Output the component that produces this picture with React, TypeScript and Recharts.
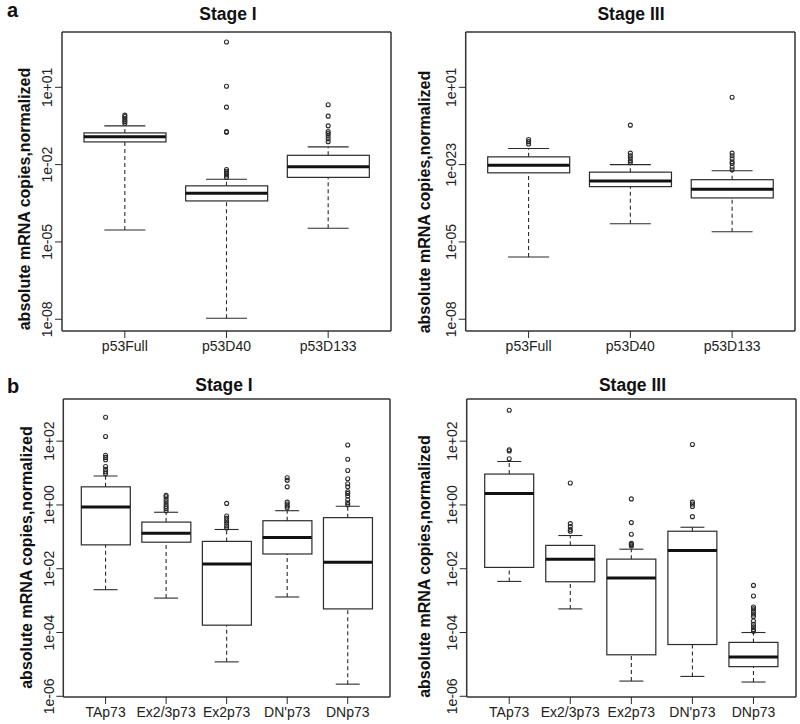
import React from 'react';
import { ComposedChart, Bar, Scatter, XAxis, YAxis } from 'recharts';

const FONT = '"Liberation Sans", Arial, Helvetica, sans-serif';
const INK = '#2b2b2b';
const FRAME = { stroke: '#333', strokeWidth: 1.5 };

// categories
const A_NAMES = ['p53Full', 'p53D40', 'p53D133'];
const B_NAMES = ['TAp73', 'Ex2/3p73', 'Ex2p73', "DN'p73", 'DNp73'];

// log axis limits and ticks
const A_DOMAIN = [3.5e-9, 1.4e3];
const B_DOMAIN = [9.5e-7, 2.1e3];
const A_TICKS = [1e-8, 1e-5, 1e-2, 1e1];
const A1_TICK_LABELS = ['1e-08', '1e-05', '1e-02', '1e+01'];
const A3_TICK_LABELS = ['1e-08', '1e-05', '1e-023', '1e+01'];
const B_TICKS = [1e-6, 1e-4, 1e-2, 1e0, 1e2];
const B_TICK_LABELS = ['1e-06', '1e-04', '1e-02', '1e+00', '1e+02'];

// [lower whisker, Q1, median, Q3, upper whisker]
const A1_STATS = [
  [2.9e-5, 7.6e-2, 1.2e-1, 1.7e-1, 3.2e-1],
  [1.1e-8, 3.9e-4, 7.8e-4, 1.5e-3, 2.7e-3],
  [3.4e-5, 3.2e-3, 8.3e-3, 2.3e-2, 4.9e-2],
];
const A1_OUT = [
  [0.83, 0.74, 0.63, 0.54, 0.47, 0.4],
  [575, 11, 1.7, 0.19, 0.18, 6.5e-3, 5.5e-3, 4.8e-3, 4.0e-3, 3.2e-3],
  [2.1, 0.76, 0.32, 0.19, 0.16, 0.13, 0.1, 0.078],
];

const A3_STATS = [
  [2.6e-6, 4.8e-3, 9.5e-3, 2.0e-2, 4.2e-2],
  [5.1e-5, 1.4e-3, 2.3e-3, 5.1e-3, 1.0e-2],
  [2.5e-5, 5.1e-4, 1.1e-3, 2.6e-3, 5.8e-3],
];
const A3_OUT = [
  [0.095, 0.078, 0.063],
  [0.34, 0.028, 0.022, 0.018, 0.014, 0.012],
  [4.1, 0.028, 0.022, 0.017, 0.013, 0.011, 8.1e-3, 6.3e-3],
];

const B1_STATS = [
  [2.2e-3, 0.056, 0.87, 3.7, 8.1],
  [1.2e-3, 0.068, 0.13, 0.29, 0.59],
  [1.2e-5, 1.7e-4, 0.014, 0.072, 0.17],
  [1.3e-3, 0.029, 0.095, 0.32, 0.66],
  [2.4e-6, 5.5e-4, 0.016, 0.4, 0.91],
];
const B1_OUT = [
  [560, 140, 36, 31, 26, 16, 13, 11, 9.5],
  [2.0, 1.8, 1.5, 1.26, 1.05, 0.89, 0.78, 0.66],
  [1.12, 0.45, 0.38, 0.32, 0.27, 0.22, 0.19],
  [7.1, 5.9, 3.7, 1.23, 1.07, 0.93, 0.81],
  [76, 27, 12, 6.6, 4.6, 3.7, 2.6, 2.3, 1.9, 1.45, 1.17, 1.02],
];

const B3_STATS = [
  [4.0e-3, 0.011, 2.3, 9.3, 23],
  [5.5e-4, 3.9e-3, 0.02, 0.054, 0.11],
  [3.0e-6, 2.0e-5, 5.1e-3, 0.02, 0.041],
  [4.2e-6, 4.2e-5, 0.037, 0.15, 0.2],
  [2.8e-6, 8.5e-6, 1.7e-5, 4.9e-5, 1.0e-4],
];
const B3_OUT = [
  [930, 54, 49, 28],
  [4.9, 0.26, 0.21, 0.17, 0.15],
  [1.55, 0.28, 0.12, 0.063, 0.058, 0.052],
  [79, 1.23, 1.07, 0.89, 0.43],
  [3.0e-3, 1.4e-3, 6.3e-4, 5.5e-4, 4.6e-4, 3.8e-4, 3.2e-4, 2.3e-4, 1.8e-4, 1.5e-4, 1.23e-4, 1.1e-4],
];

const BoxShape = (props: any) => {
  const { x, y, width, height } = props;
  return <rect x={x} y={y} width={width} height={height} fill="#fff" stroke={INK} strokeWidth={1.2} />;
};

const Outlier = (props: any) => (
  <circle cx={props.cx} cy={props.cy} r={2} fill="none" stroke={INK} strokeWidth={1.1} />
);

function makeYTick(ticks: number[], labels: string[]) {
  return (props: any) => {
    const { x, y, payload } = props;
    const i = ticks.findIndex(t => Math.abs(Math.log10(t) - Math.log10(payload.value)) < 1e-6);
    return (
      <text
        x={x}
        y={y}
        transform={`rotate(-90 ${x} ${y})`}
        textAnchor="middle"
        fontFamily={FONT}
        fontSize={14}
        fill="#222"
      >
        {i >= 0 ? labels[i] : ''}
      </text>
    );
  };
}

interface PanelProps {
  names: string[];
  stats: number[][];
  outliers: number[][];
  domain: number[];
  ticks: number[];
  tickLabels: string[];
  left: number;
  top: number;
  width: number;
  height: number;
  margin: { top: number; right: number; bottom: number; left: number };
  yWidth: number;
  xHeight: number;
  boxW: number;
  capW: number;
}

function BoxPanel(p: PanelProps) {
  const rows = p.names.map((name, i) => ({ name, box: [p.stats[i][1], p.stats[i][3]] }));
  // each whisker runs from the box edge out to its cap
  const whiskers = p.names.flatMap((name, i) => [
    [{ name, v: p.stats[i][0], cap: true }, { name, v: p.stats[i][1], cap: false }],
    [{ name, v: p.stats[i][3], cap: false }, { name, v: p.stats[i][4], cap: true }],
  ]);
  const medians = p.names.map((name, i) => ({ name, v: p.stats[i][2] }));
  const outPts = p.names.flatMap((name, i) => p.outliers[i].map(v => ({ name, v })));

  const MedianShape = (s: any) => (
    <line x1={s.cx - p.boxW / 2} x2={s.cx + p.boxW / 2} y1={s.cy} y2={s.cy} stroke="#111" strokeWidth={3} />
  );
  const CapShape = (s: any) =>
    s.payload && s.payload.cap ? (
      <line x1={s.cx - p.capW / 2} x2={s.cx + p.capW / 2} y1={s.cy} y2={s.cy} stroke={INK} strokeWidth={1.1} />
    ) : (
      <g />
    );

  return (
    <div style={{ position: 'absolute', left: p.left, top: p.top }}>
      <ComposedChart width={p.width} height={p.height} data={rows} margin={p.margin}>
        <XAxis
          dataKey="name"
          type="category"
          allowDuplicatedCategory={false}
          padding={{ left: 12, right: 12 }}
          interval={0}
          height={p.xHeight}
          axisLine={FRAME}
          tickSize={7}
          tickMargin={3}
          tickLine={{ stroke: INK }}
          tick={{ fontSize: 14, fontFamily: FONT, fill: '#222' }}
        />
        <XAxis
          xAxisId="top"
          orientation="top"
          type="number"
          domain={[0, 1]}
          height={1}
          tick={false}
          tickLine={false}
          axisLine={FRAME}
        />
        <YAxis
          yAxisId="l"
          type="number"
          scale="log"
          domain={p.domain}
          allowDataOverflow
          ticks={p.ticks}
          interval={0}
          width={p.yWidth}
          axisLine={FRAME}
          tickSize={7}
          tickMargin={2.5}
          tickLine={{ stroke: INK }}
          tick={makeYTick(p.ticks, p.tickLabels)}
        />
        <YAxis
          yAxisId="r"
          orientation="right"
          type="number"
          domain={[0, 1]}
          width={1}
          tick={false}
          tickLine={false}
          axisLine={FRAME}
        />
        {whiskers.map((w, i) => (
          <Scatter
            key={'w' + i}
            yAxisId="l"
            data={w}
            dataKey="v"
            line={{ stroke: INK, strokeWidth: 1.1, strokeDasharray: '4 3' }}
            shape={CapShape}
            isAnimationActive={false}
          />
        ))}
        <Bar yAxisId="l" dataKey="box" barSize={p.boxW} shape={BoxShape} isAnimationActive={false} />
        <Scatter yAxisId="l" data={medians} dataKey="v" shape={MedianShape} isAnimationActive={false} />
        <Scatter yAxisId="l" data={outPts} dataKey="v" shape={Outlier} isAnimationActive={false} />
      </ComposedChart>
    </div>
  );
}

const YTITLE = 'absolute mRNA copies,normalized';

export default function App() {
  return (
    <div style={{ position: 'absolute', left: 0, top: 0, width: 800, height: 724, background: '#fff', overflow: 'hidden' }}>
      <BoxPanel
        names={A_NAMES} stats={A1_STATS} outliers={A1_OUT}
        domain={A_DOMAIN} ticks={A_TICKS} tickLabels={A1_TICK_LABELS}
        left={0} top={0} width={400} height={370}
        margin={{ top: 31, right: 8, bottom: 9, left: 2 }} yWidth={60} xHeight={30}
        boxW={82} capW={41}
      />
      <BoxPanel
        names={A_NAMES} stats={A3_STATS} outliers={A3_OUT}
        domain={A_DOMAIN} ticks={A_TICKS} tickLabels={A3_TICK_LABELS}
        left={400} top={0} width={400} height={370}
        margin={{ top: 31, right: 4, bottom: 9, left: 2 }} yWidth={63.7} xHeight={30}
        boxW={82} capW={41}
      />
      <BoxPanel
        names={B_NAMES} stats={B1_STATS} outliers={B1_OUT}
        domain={B_DOMAIN} ticks={B_TICKS} tickLabels={B_TICK_LABELS}
        left={0} top={370} width={400} height={354}
        margin={{ top: 28, right: 9, bottom: 1, left: 2 }} yWidth={61.3} xHeight={26}
        boxW={49} capW={24}
      />
      <BoxPanel
        names={B_NAMES} stats={B3_STATS} outliers={B3_OUT}
        domain={B_DOMAIN} ticks={B_TICKS} tickLabels={B_TICK_LABELS}
        left={400} top={370} width={400} height={354}
        margin={{ top: 28, right: 3, bottom: 1, left: 2 }} yWidth={64.7} xHeight={26}
        boxW={49} capW={24}
      />
      <svg width={800} height={724} style={{ position: 'absolute', left: 0, top: 0, pointerEvents: 'none' }}>
        <g fontFamily={FONT} fontWeight="bold" fill="#111">
          <text x={7} y={17} fontSize={20}>a</text>
          <text x={7} y={392.5} fontSize={20}>b</text>
          <text x={228} y={19.5} fontSize={17.5} textAnchor="middle">Stage I</text>
          <text x={631} y={19.5} fontSize={17.5} textAnchor="middle">Stage III</text>
          <text x={224} y={390.7} fontSize={17.5} textAnchor="middle">Stage I</text>
          <text x={632.5} y={390.7} fontSize={17.5} textAnchor="middle">Stage III</text>
          <text x={30} y={199} fontSize={16} textAnchor="middle" transform="rotate(-90 30 199)">{YTITLE}</text>
          <text x={430} y={202} fontSize={16} textAnchor="middle" transform="rotate(-90 430 202)">{YTITLE}</text>
          <text x={31.5} y={557.5} fontSize={16} textAnchor="middle" transform="rotate(-90 31.5 557.5)">{YTITLE}</text>
          <text x={430} y={566.5} fontSize={16} textAnchor="middle" transform="rotate(-90 430 566.5)">{YTITLE}</text>
        </g>
      </svg>
    </div>
  );
}
